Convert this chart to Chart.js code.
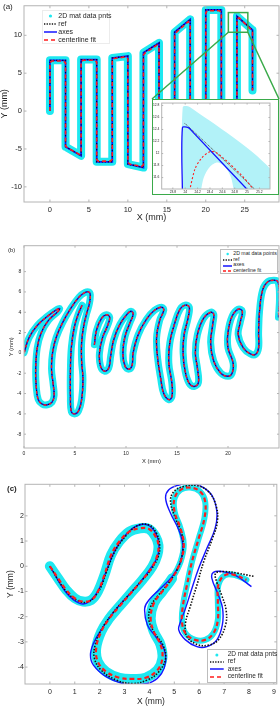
<!DOCTYPE html>
<html>
<head>
<meta charset="utf-8">
<script src="https://cdn.jsdelivr.net/npm/chart.js@4.4.1/dist/chart.umd.min.js"></script>
<style>
  html, body { margin: 0; padding: 0; background: #fff; }
  body { position: relative; width: 280px; height: 706px; overflow: hidden; font-family: "Liberation Sans", Arial, sans-serif; color: #262626; }
  canvas, .abs { position: absolute; }
  .tag { position: absolute; line-height: 1; white-space: nowrap; }
  .legend { position: absolute; background: #fff; box-sizing: border-box; }
  .legend div { position: absolute; white-space: nowrap; line-height: 1; }
  .legend svg { position: absolute; }
</style>
</head>
<body>
<canvas id="chartA" width="280" height="230" style="left:0;top:0"></canvas>
<canvas id="inset" width="127" height="96" style="left:152px;top:99px;background:#fff"></canvas>
<div class="abs" style="left:152px;top:99px;width:127px;height:96px;box-sizing:border-box;border:1.5px solid #3aaa4a"></div>
<canvas id="chartB" width="280" height="240" style="left:0;top:230px"></canvas>
<canvas id="chartC" width="280" height="236" style="left:0;top:470px"></canvas>
<div class="tag" style="left:3px;top:3px;font-size:8px">(a)</div>
<div class="tag" style="left:8px;top:247px;font-size:6px">(b)</div>
<div class="tag" style="left:7px;top:485px;font-size:8px;font-weight:bold">(c)</div>
<div id="legA" class="legend"></div>
<div id="legB" class="legend"></div>
<div id="legC" class="legend"></div>
<script>
const FONT = "'Liberation Sans', Arial, sans-serif";
const CYAN = 'rgb(30,232,240)';
const BLUE = '#1414ff';
const RED = '#ff1c1c';
const BLACK = '#111111';
const GREEN = '#3aaa4a';

const legendLabels = ['2D mat data pnts', 'ref', 'axes', 'centerline fit'];
const legendLabelsB = ['2D mat data points', 'ref', 'axes', 'centerline fit'];

// ---------- panel (a)
const aXTicks = [0, 5, 10, 15, 20, 25];
const aYTicks = [-10, -5, 0, 5, 10];
const aPath = [[0,0],[0,6.7],[2,6.7],[2,-4.7],[4,-5.9],[4,6.8],[6,6.8],[6,-6.7],[8,-6.7],[8,7.0],[10,7.25],[10,-7.0],
  [12,-7.45],[12,7.7],[14,9.0],[14,-7.8],[16,-8.0],[16,10.4],[18,12.1],[18,-8.5],[20,-8.5],[20,13.35],[22,13.35],
  [22,-8.5],[24,-8.5],[24,12.5],[26,10.7],[26,2.7]];
const aFit = [[0,0],[0,6.4],[0.25,6.6],[1.75,6.6],[2,6.35],[2,-4.6],[2.25,-4.85],[3.75,-5.7],[4,-5.5],[4,6.5],[4.25,6.7],
  [5.75,6.7],[6,6.45],[6,-6.4],[6.25,-6.6],[7.75,-6.6],[8,-6.35],[8,6.75],[8.25,6.95],[9.75,7.15],[10,6.9],[10,-6.75],
  [10.25,-7.0],[11.75,-7.3],[12,-7.1],[12,7.4],[12.25,7.7],[13.75,8.7],[14,8.5],[14,-7.5],[16,-7.7],[16,10.1],[16.25,10.4],
  [17.75,11.8],[18,11.5],[18,-8.2],[20,-8.2],[20,13.0],[20.25,13.25],[21.75,13.25],[22,13.0],[22,-8.2],[24,-8.2],[24,12.1],
  [24.3,12.3],[25.75,10.8],[26,10.4],[26,2.7]];
const aZoomBox = [22.9, 10.4, 25.4, 13.0];

// ---------- inset of (a)
const insetXTicks = [23.8, 24, 24.2, 24.4, 24.6, 24.8, 25, 25.2];
const insetYTicks = [11.6, 11.8, 12, 12.2, 12.4, 12.6, 12.8];
const insetData = [[23.96,11.3],[23.96,12.77],[24.08,12.77],[25.37,11.75],[25.37,11.3]];
const insetHole = [[24.24,11.3],[24.3,11.6],[24.4,11.78],[24.52,11.85],[24.64,11.78],[24.74,11.6],[24.8,11.3]];
const insetRef = [[23.99,12.5],[24.03,12.47],[25.15,11.38]];
const insetAxes = [[23.955,11.3],[23.955,12.43],[24.05,12.43],[24.12,12.36],[25.05,11.35]];
const insetFit = [[24.07,11.38],[24.16,11.75],[24.27,11.93],[24.4,12.03],[24.51,12.01],[24.89,11.66],[25.1,11.41]];

// ---------- panel (b)  (null = break in the trace)
const bXTicks = [0, 5, 10, 15, 20];
const bYTicks = [-8, -6, -4, -2, 0, 2, 4, 6, 8];
const bPath = [
  [0,0],[0.5,1.5],[1.3,2.7],[2.3,3.6],[3.2,4.25],[3.5,4.35],
  [3.3,4.05],[2.4,3.2],[1.7,2.0],[1.3,0.5],[1.15,-1.5],[1.2,-3.3],[1.4,-4.6],[1.8,-5.05],[2.3,-5.1],
  [2.75,-4.85],[2.95,-4.2],[2.85,-3.0],[2.7,-1.6],[2.8,0],[3.15,1.5],[3.8,3.0],[4.6,4.4],[5.4,5.5],[6.0,5.95],[6.35,6.0],
  [6.5,5.7],[6.4,4.8],[6.15,3.9],[5.85,2.6],[5.65,1.0],[5.65,-0.8],[5.78,-2.6],[5.65,-4.6],[5.35,-5.7],[5.0,-6.0],
  [4.65,-5.8],[4.55,-4.3],[4.55,-1.7],[4.65,0.6],[4.95,2.6],[5.35,3.9],[5.7,4.7],
  null,
  [6.9,0.8],[7.1,2.2],[7.6,3.4],[8.1,3.75],[8.4,3.5],[8.2,2.7],[7.7,1.5],[7.4,0],[7.5,-1.3],[7.9,-1.8],
  [8.3,-1.5],[8.5,-0.3],[8.8,1.3],[9.4,2.8],[10.1,3.8],[10.5,4.1],[10.7,3.8],[10.4,3.0],[9.9,1.6],[9.7,0],[9.9,-1.3],[10.3,-1.6],
  [10.6,-1.2],[10.7,0],[11.2,1.8],[12.0,3.3],[12.8,4.2],[13.5,4.5],[13.7,4.2],[13.3,3.2],[13.0,1.5],[13.1,-0.5],[13.4,-2.5],
  [13.7,-4.0],[14.2,-4.6],[14.5,-4.3],[14.5,-3.0],[14.2,-1.0],[14.3,1.0],[14.8,3.0],[15.3,4.3],[15.8,4.7],[16.2,4.5],[16.1,3.5],
  [15.7,1.8],[15.6,0],[15.8,-1.8],[16.2,-3.0],[16.7,-3.3],[17.1,-2.9],[17.0,-1.5],[16.8,0],[17.0,1.8],[17.6,3.4],[18.3,4.0],
  [18.6,3.8],[18.5,2.8],[18.3,1.0],[18.6,-0.8],[19.3,-2.0],[20.0,-2.3],[20.4,-2.0],[20.5,-1.0],[20.0,0.5],[20.0,2.0],[20.4,3.6],
  [21.0,4.3],[21.4,4.1],[21.2,3.0],[21.0,1.8],[21.5,0.5],[22.2,-0.1],[22.7,-0.15],[23.0,0.5],[23.0,2.0],[23.1,4.2],[23.4,6.2],
  [23.9,7.0],[24.5,7.15],[24.9,7.0],[25.05,5.5],[24.95,3.5]];

// ---------- panel (c)
const cXTicks = [0, 1, 2, 3, 4, 5, 6, 7, 8, 9];
const cYTicks = [-4, -3, -2, -1, 0, 1, 2];
const cFit = [[0,0],[0.33,-0.48],[0.66,-0.94],[1.0,-1.27],[1.33,-1.4],[1.66,-1.34],[1.93,-1.0],[2.19,-0.35],[2.46,0.45],
  [2.79,0.98],[3.19,1.37],[3.59,1.5],[3.98,1.48],[4.25,1.17],[4.36,0.84],[4.32,0.45],[4.12,-0.01],[3.72,-0.54],[3.25,-1.07],
  [2.79,-1.6],[2.39,-2.07],[2.06,-2.6],[1.86,-3.26],[1.93,-3.79],[2.26,-4.18],[2.79,-4.42],[3.32,-4.47],[3.85,-4.42],
  [4.32,-4.12],[4.52,-3.65],[4.45,-3.12],[4.18,-2.6],[4.05,-2.07],[4.18,-1.47],[4.52,-1.0],[4.91,-0.48],[5.25,0.18],
  [5.38,0.85],[5.25,1.5],[5.01,2.17],[5.01,2.7],[5.25,3.03],[5.64,3.12],[6.04,2.96],[6.24,2.56],[6.21,1.9],[5.98,1.1],
  [5.71,0.18],[5.51,-0.74],[5.35,-1.54],[5.31,-2.2],[5.45,-2.66],[5.84,-2.92],[6.24,-2.92],[6.57,-2.66],[6.75,-2.13],
  [6.75,-1.41],[6.77,-0.74],[7.04,-0.35],[7.44,-0.35],[7.9,-0.54]];
const cAxes = [[0,0],[0.66,-1.05],[1.2,-1.47],[1.59,-1.4],[1.99,-0.88],[2.26,-0.21],[2.59,0.58],[2.99,1.18],[3.45,1.58],
  [3.92,1.64],[4.25,1.31],[4.38,0.84],[4.32,0.38],[4.05,-0.08],[3.59,-0.68],[3.05,-1.27],[2.52,-1.87],[2.06,-2.53],
  [1.75,-3.06],[1.63,-3.52],[1.75,-3.92],[2.26,-4.38],[2.92,-4.65],[3.59,-4.69],[4.12,-4.58],[4.49,-4.25],[4.65,-3.79],
  [4.58,-3.26],[4.25,-2.79],[3.92,-2.33],[3.81,-1.67],[3.98,-1.34],[4.38,-0.94],[4.91,-0.41],[5.25,0.18],[5.34,0.85],
  [5.18,1.44],[4.85,2.1],[4.65,2.7],[4.78,3.03],[5.18,3.22],[5.64,3.29],[6.1,3.16],[6.5,2.83],[6.71,2.17],[6.64,1.5],
  [6.31,0.71],[5.98,-0.08],[5.71,-0.87],[5.45,-1.67],[5.25,-2.2],[5.18,-2.53],[5.45,-2.92],[5.91,-3.19],[6.31,-3.19],
  [6.71,-2.92],[6.93,-2.33],[6.94,-1.67],[6.77,-1.14],[6.51,-0.48],[6.57,-0.24],[6.91,-0.21],[7.44,-0.35],[8.1,-0.81]];
const cRef = [[0,0],[0.66,-1.0],[1.2,-1.4],[1.59,-1.38],[1.99,-0.94],[2.28,-0.21],[2.59,0.55],[3.03,1.18],[3.52,1.61],
  [3.98,1.64],[4.28,1.31],[4.41,0.84],[4.35,0.38],[4.05,-0.15],[3.59,-0.68],[3.05,-1.27],[2.52,-1.87],[2.06,-2.53],
  [1.82,-3.12],[1.79,-3.65],[2.06,-4.12],[2.66,-4.51],[3.32,-4.65],[3.92,-4.51],[4.38,-4.18],[4.65,-3.65],[4.54,-3.12],
  [4.22,-2.66],[3.98,-2.13],[4.05,-1.6],[4.31,-1.21],[4.71,-0.74],[5.11,-0.15],[5.34,0.58],[5.31,1.24],[5.05,1.9],
  [4.85,2.56],[4.98,2.96],[5.38,3.16],[5.91,3.2],[6.37,2.96],[6.67,2.43],[6.73,1.77],[6.51,1.04],[6.18,0.18],[5.91,-0.74],
  [5.64,-1.6],[5.45,-2.26],[5.51,-2.79],[5.91,-3.1],[6.37,-3.13],[6.77,-2.92],[7.06,-2.33],[7.08,-1.73],[6.9,-1.14],
  [6.7,-0.61],[6.66,-0.28],[6.97,-0.21],[7.57,-0.28],[8.23,-0.41]];
const cWideUntil = 35;

const pts = arr => arr.map(p => (p ? { x: p[0], y: p[1] } : { x: null, y: null }));
const fmt = v => String(+v.toFixed(2));

function makeScale(o) {
  return {
    type: 'linear', min: o.min, max: o.max,
    afterBuildTicks: s => { s.ticks = o.ticks.map(v => ({ value: v })); },
    afterFit: s => { if (s.isHorizontal()) s.height = o.size; else s.width = o.size; },
    grid: { display: false, drawTicks: false },
    border: { display: false },
    ticks: { font: { family: FONT, size: o.font, lineHeight: 1 }, color: '#262626', padding: o.pad,
      maxRotation: 0, autoSkip: false, callback: v => fmt(v) },
    title: o.title
      ? { display: true, text: o.title, color: '#262626', font: { family: FONT, size: o.tfont, lineHeight: 1 }, padding: o.tpad }
      : { display: false }
  };
}

function lineSet(label, arr, color, width, dash, order, extra) {
  return Object.assign({ label, data: pts(arr), showLine: true, borderColor: color, borderWidth: width,
    borderDash: dash, pointRadius: 0, fill: false, order, clip: 0, spanGaps: false }, extra || {});
}

// box round the axes with the small inward tick marks
const framePlugin = {
  id: 'frame',
  afterDatasetsDraw(chart, args, o) {
    const { ctx, chartArea: a, scales: { x, y } } = chart;
    ctx.save();
    ctx.strokeStyle = o.color; ctx.lineWidth = 1;
    ctx.strokeRect(a.left, a.top, a.right - a.left, a.bottom - a.top);
    ctx.beginPath();
    x.ticks.forEach(t => {
      const p = x.getPixelForValue(t.value);
      ctx.moveTo(p, a.bottom); ctx.lineTo(p, a.bottom - o.tick);
      ctx.moveTo(p, a.top); ctx.lineTo(p, a.top + o.tick);
    });
    y.ticks.forEach(t => {
      const p = y.getPixelForValue(t.value);
      ctx.moveTo(a.left, p); ctx.lineTo(a.left + o.tick, p);
      ctx.moveTo(a.right, p); ctx.lineTo(a.right - o.tick, p);
    });
    ctx.stroke();
    ctx.restore();
  }
};

// green zoom rectangle and the two lines to the inset
const zoomPlugin = {
  id: 'zoomMarks',
  afterDraw(chart, args, o) {
    const { ctx, scales: { x, y } } = chart;
    const l = x.getPixelForValue(aZoomBox[0]), r = x.getPixelForValue(aZoomBox[2]);
    const b = y.getPixelForValue(aZoomBox[1]), t = y.getPixelForValue(aZoomBox[3]);
    ctx.save();
    ctx.strokeStyle = GREEN; ctx.lineWidth = 1.5;
    ctx.strokeRect(l, t, r - l, b - t);
    ctx.beginPath();
    ctx.moveTo(l, b); ctx.lineTo(o.left, o.top);
    ctx.moveTo(r, b); ctx.lineTo(o.right, o.top);
    ctx.stroke();
    ctx.restore();
  }
};

function options(o) {
  return {
    responsive: false, animation: false, devicePixelRatio: 1, events: [],
    layout: { padding: o.padding },
    plugins: { legend: { display: false }, tooltip: { enabled: false },
      frame: { color: '#b4b4b4', tick: o.tick }, zoomMarks: o.zoom || {} },
    elements: { point: { radius: 0 }, line: { tension: o.tension } },
    scales: { x: makeScale(o.x), y: makeScale(o.y) }
  };
}

const band = { borderCapStyle: 'round', borderJoinStyle: 'round' };

// (a)
new Chart(document.getElementById('chartA'), {
  type: 'scatter',
  data: { datasets: [
    lineSet(legendLabels[0], aPath, CYAN, 8, [], 4, band),
    lineSet(legendLabels[2], aPath, BLUE, 1.8, [], 3),
    lineSet(legendLabels[1], aPath, BLACK, 1.2, [1.2, 1.8], 2),
    lineSet(legendLabels[3], aFit, RED, 1.6, [4, 3], 1)
  ] },
  options: options({ padding: { top: 1, right: 1, left: 0, bottom: 0 }, tick: 2.5, tension: 0,
    zoom: { left: 152, top: 99, right: 279 },
    x: { min: -3.33, max: 29.4, ticks: aXTicks, size: 28, font: 7.5, pad: 4.2, title: 'X (mm)', tfont: 9, tpad: { top: 0, bottom: 7.5 } },
    y: { min: -12.0, max: 13.9, ticks: aYTicks, size: 24, font: 7.5, pad: 2, title: 'Y (mm)', tfont: 9, tpad: { top: 0.5, bottom: 0 } } }),
  plugins: [framePlugin, zoomPlugin]
});

// inset
new Chart(document.getElementById('inset'), {
  type: 'scatter',
  data: { datasets: [
    lineSet(legendLabels[0], insetData, 'rgba(0,0,0,0)', 0, [], 6, { fill: 'shape', backgroundColor: 'rgb(178,242,248)' }),
    lineSet('', insetHole, 'rgba(0,0,0,0)', 0, [], 5, { fill: 'shape', backgroundColor: '#ffffff' }),
    lineSet(legendLabels[1], insetRef, '#444', 1, [1, 1], 3),
    lineSet(legendLabels[2], insetAxes, BLUE, 1.3, [], 2),
    lineSet(legendLabels[3], insetFit, RED, 1.1, [2, 2], 1)
  ] },
  options: options({ padding: { top: 2, right: 9, left: 0, bottom: 0 }, tick: 1.5, tension: 0.3,
    x: { min: 23.62, max: 25.37, ticks: insetXTicks, size: 6, font: 3.3, pad: 1.6 },
    y: { min: 11.41, max: 12.84, ticks: insetYTicks, size: 9.7, font: 3.3, pad: 2.4 } }),
  plugins: [framePlugin]
});

// (b)
new Chart(document.getElementById('chartB'), {
  type: 'scatter',
  data: { datasets: [
    lineSet(legendLabelsB[0], bPath, CYAN, 7, [], 4, band),
    lineSet(legendLabelsB[2], bPath, BLUE, 1.5, [], 3),
    lineSet(legendLabelsB[1], bPath, BLACK, 1, [1, 1.2], 2),
    lineSet(legendLabelsB[3], bPath, RED, 1.4, [3, 2.5], 1)
  ] },
  options: options({ padding: { top: 15.7, right: 1, left: 0, bottom: 0 }, tick: 2, tension: 0.4,
    x: { min: 0, max: 25, ticks: bXTicks, size: 22, font: 5, pad: 2.8, title: 'X (mm)', tfont: 5.8, tpad: { top: 0, bottom: 6.1 } },
    y: { min: -9.36, max: 10.55, ticks: bYTicks, size: 24, font: 5, pad: 2.7, title: 'Y (mm)', tfont: 5.8, tpad: { top: 8.8, bottom: 0 } } }),
  plugins: [framePlugin]
});

// (c)
new Chart(document.getElementById('chartC'), {
  type: 'scatter',
  data: { datasets: [
    lineSet(legendLabels[0], cFit, CYAN, 10, [], 4, Object.assign({
      segment: { borderWidth: c => (c.p0DataIndex < cWideUntil ? 10 : 6) } }, band)),
    lineSet(legendLabels[2], cAxes, BLUE, 1.4, [], 3),
    lineSet(legendLabels[1], cRef, BLACK, 1.6, [1.5, 1.5], 2),
    lineSet(legendLabels[3], cFit, RED, 2.2, [4.5, 3], 1)
  ] },
  options: options({ padding: { top: 14.3, right: 1, left: 0, bottom: 0 }, tick: 2.5, tension: 0.4,
    x: { min: -1.0, max: 9.12, ticks: cXTicks, size: 22, font: 7, pad: 4.2, title: 'X (mm)', tfont: 8.5, tpad: { top: 0, bottom: 0 } },
    y: { min: -4.67, max: 3.25, ticks: cYTicks, size: 25, font: 7, pad: 1, title: 'Y (mm)', tfont: 8.5, tpad: { top: 6, bottom: 0 } } }),
  plugins: [framePlugin]
});

// legends (html text, line samples in svg)
function buildLegend(id, labels, b) {
  const el = document.getElementById(id);
  Object.assign(el.style, { left: b.left + 'px', top: b.top + 'px', width: b.w + 'px', height: b.h + 'px',
    fontSize: b.font + 'px', border: b.border });
  const sw = b.sx1 - b.sx0;
  const samples = [
    `<circle cx="${sw / 2}" cy="4" r="${b.dot}" fill="${CYAN}"/>`,
    `<line x1="0" y1="4" x2="${sw}" y2="4" stroke="${BLACK}" stroke-width="1.3" stroke-dasharray="1.3 1.3"/>`,
    `<line x1="0" y1="4" x2="${sw}" y2="4" stroke="${BLUE}" stroke-width="1.5"/>`,
    `<line x1="0" y1="4" x2="${sw}" y2="4" stroke="${RED}" stroke-width="1.5" stroke-dasharray="${b.dash}"/>`
  ];
  let html = '';
  labels.forEach((text, i) => {
    const cy = b.y0 + i * b.dy;
    html += `<svg width="${sw}" height="8" style="left:${b.sx0}px;top:${cy - 4}px">${samples[i]}</svg>`;
    html += `<div style="left:${b.tx}px;top:${cy - b.font / 2 - 0.5}px">${text}</div>`;
  });
  el.innerHTML = html;
}

buildLegend('legA', legendLabels, { left: 42, top: 10, w: 68, h: 34, font: 7, border: '1px solid #ececec',
  y0: 4.7, dy: 8, sx0: 1, sx1: 14, tx: 15.3, dot: 1.6, dash: '4 3' });
buildLegend('legB', legendLabelsB, { left: 220, top: 249, w: 58, h: 25, font: 5.2, border: '1px solid #bdbdbd',
  y0: 3.7, dy: 5.9, sx0: 1.7, sx1: 11, tx: 12.3, dot: 1.2, dash: '3 2' });
buildLegend('legC', legendLabels, { left: 207, top: 649, w: 70, h: 34, font: 6.5, border: '1px solid #bdbdbd',
  y0: 5, dy: 7.2, sx0: 2, sx1: 15.7, tx: 19.7, dot: 1.5, dash: '4 3' });
</script>
</body>
</html>
